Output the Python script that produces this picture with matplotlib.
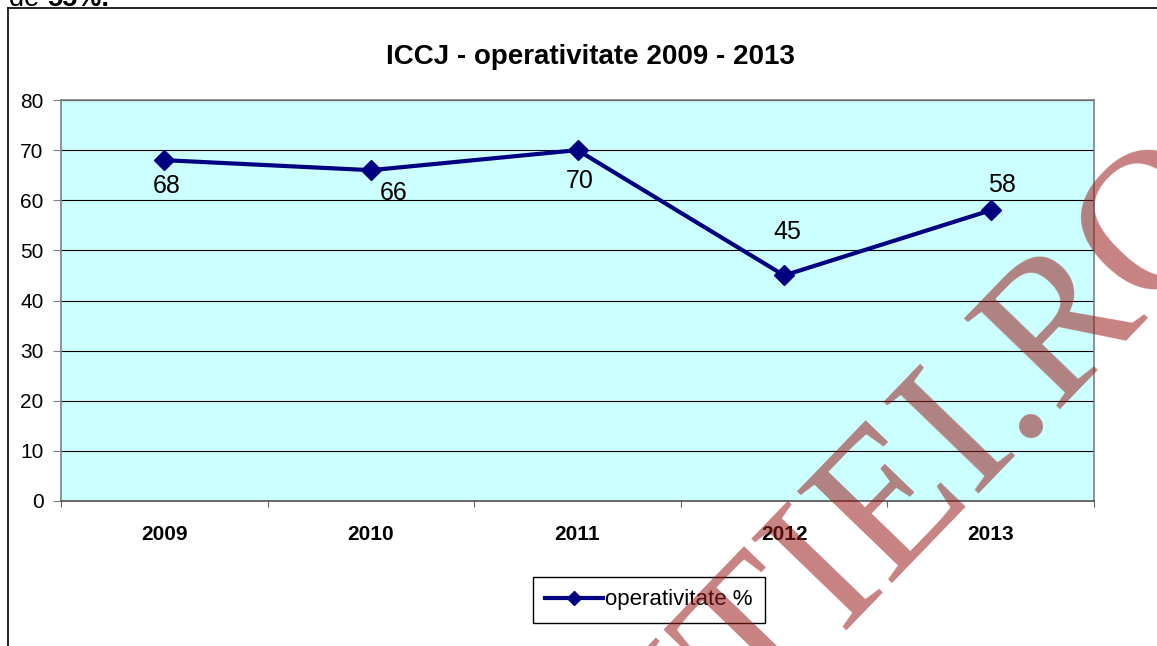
import numpy as np
import matplotlib.pyplot as plt
from matplotlib.lines import Line2D

plt.rcParams['font.family'] = ['Liberation Sans', 'DejaVu Sans']

ani = ['2009', '2010', '2011', '2012', '2013']
operativitate = [68, 66, 70, 45, 58]
serie = 'operativitate %'
titlu = 'ICCJ - operativitate 2009 - 2013'

# deplasarea etichetelor fata de puncte (pixeli)
offs = [(2, -26), (23, -23), (2, -31), (3, 43), (11, 25)]

W, H = 1157, 646
fig = plt.figure(figsize=(W / 100, H / 100), dpi=100)
ax = fig.add_axes([61 / W, 1 - 501 / H, (1094 - 61) / W, (501 - 100) / H])
ax.set_facecolor('#ccffff')

x = np.arange(len(ani))
ax.plot(x, operativitate, color='#000080', lw=3, marker='D', ms=10,
        label=serie, zorder=4, clip_on=False)
for xi, v, (dx, dy) in zip(x, operativitate, offs):
    ax.annotate(str(v), (xi, v), xytext=(dx, dy), textcoords='offset pixels',
                ha='center', va='center', fontsize=18, zorder=5)

ax.set_xlim(-0.5, len(ani) - 0.5)
ax.set_ylim(0, 80)
ax.set_yticks(np.arange(0, 81, 10))
ax.tick_params(axis='y', length=5.5, width=0.8, color='#808080', pad=7, labelsize=15)
ax.set_xticks(np.arange(-0.5, len(ani), 1))
ax.set_xticklabels([])
ax.tick_params(axis='x', which='major', length=4.5, width=0.8, color='#606060')
ax.set_xticks(x, minor=True)
ax.set_xticklabels(ani, minor=True, fontweight='bold', fontsize=15)
ax.tick_params(axis='x', which='minor', length=0, pad=17)

ax.yaxis.grid(True, color='black', lw=0.8)
ax.set_axisbelow(True)
for s in ax.spines.values():
    s.set_color('#808080')
    s.set_linewidth(1.2)
ax.spines['bottom'].set_color('#505050')

fig.text(590 / W, 1 - 57 / H, titlu, ha='center', va='center',
         fontsize=20, fontweight='bold')

leg = fig.legend(loc='center', bbox_to_anchor=(649 / W, 1 - 600 / H),
                 fontsize=16, fancybox=False, framealpha=1, edgecolor='black',
                 markerscale=0.75, handlelength=2.6, handletextpad=0.1,
                 borderpad=0.55)
leg.get_frame().set_linewidth(1)

# chenarul diagramei
fig.add_artist(Line2D([8 / W, 8 / W], [0, 1 - 8 / H], color='black', lw=1.2))
fig.add_artist(Line2D([8 / W, 1], [1 - 8 / H, 1 - 8 / H], color='black', lw=1.2))

# textul taiat de sus
fig.text(9 / W, 1 - 6.5 / H, 'de ', fontsize=19.5, va='baseline')
fig.text(47 / W, 1 - 6.5 / H, '55%.', fontsize=19.5, fontweight='bold', va='baseline')

# watermark
fig.text(1248 / W, 1 - 208 / H, 'LUMEAJUSTITIEI.RO', family='Liberation Serif',
         fontsize=145, color='#9a1a1a', alpha=0.55, rotation=46,
         rotation_mode='anchor', ha='right', va='baseline', zorder=10)

fig.savefig('out.png', dpi=100)
